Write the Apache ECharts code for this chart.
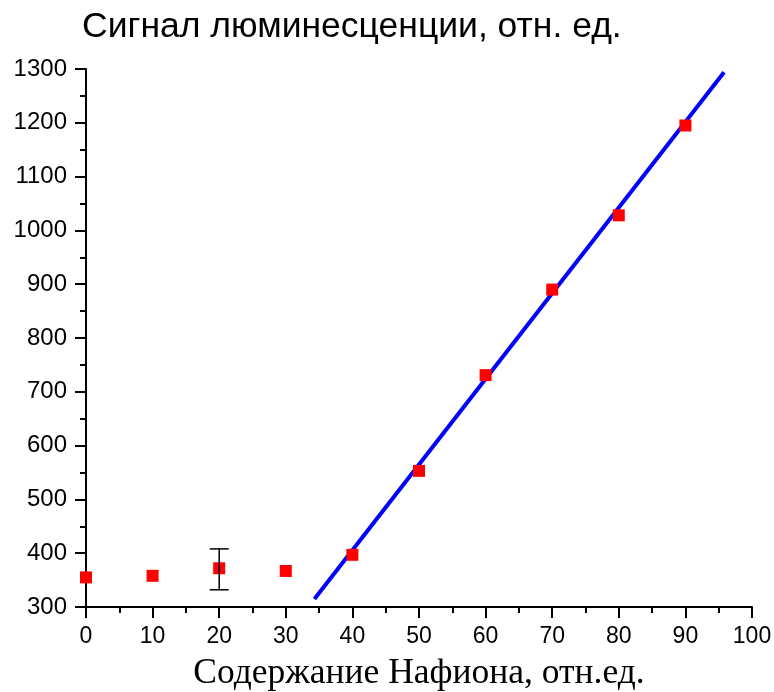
<!DOCTYPE html>
<html>
<head>
<meta charset="utf-8">
<script src="https://cdn.jsdelivr.net/npm/echarts@6/dist/echarts.min.js"></script>
<style>
  html, body { margin: 0; padding: 0; background: #fff; }
  #chart { width: 774px; height: 692px; }
</style>
</head>
<body>
<div id="chart"></div>
<script>
// Nafion content (rel. units) vs luminescence signal (rel. units)
const nafion = [0, 10, 20, 30, 40, 50, 60, 70, 80, 90];
const signal = [355, 358, 372, 367, 397, 553, 731, 890, 1028, 1195];

// error bar at the 20 point
const errX = [20];
const errLow = [332];
const errHigh = [408];

// linear fit over the rising part
const fitX = [34.3, 95.8];
const fitY = [315, 1294];

const titleText = 'Сигнал люминесценции, отн. ед.';
const xName = 'Содержание Нафиона, отн.ед.';

const chart = echarts.init(document.getElementById('chart'), null, { renderer: 'canvas' });

const sansFont = '"Liberation Sans", Arial, sans-serif';
const serifFont = '"Liberation Serif", "Times New Roman", serif';

chart.setOption({
  animation: false,
  backgroundColor: '#fff',
  title: {
    text: titleText,
    left: 77,
    top: 4,
    textStyle: { fontFamily: sansFont, fontSize: 35.5, fontWeight: 'normal', color: '#000' }
  },
  grid: { left: 86, right: 22, top: 69, bottom: 85, outerBoundsMode: 'none', containLabel: false },
  xAxis: {
    type: 'value',
    min: 0, max: 100, interval: 10,
    name: xName,
    nameLocation: 'middle',
    nameGap: 49,
    nameTextStyle: { fontFamily: serifFont, fontSize: 35.5, color: '#000' },
    axisLine: { show: true, onZero: false, lineStyle: { color: '#000', width: 2 } },
    axisTick: { show: true, inside: false, length: 11, lineStyle: { color: '#000', width: 2 } },
    minorTick: { show: true, splitNumber: 2, length: 6, lineStyle: { color: '#000', width: 2 } },
    axisLabel: { fontFamily: sansFont, fontSize: 23, color: '#000', margin: 18 },
    splitLine: { show: false }
  },
  yAxis: {
    type: 'value',
    min: 300, max: 1300, interval: 100,
    axisLine: { show: true, onZero: false, lineStyle: { color: '#000', width: 2 } },
    axisTick: { show: true, inside: false, length: 11, lineStyle: { color: '#000', width: 2 } },
    minorTick: { show: true, splitNumber: 2, length: 6, lineStyle: { color: '#000', width: 2 } },
    axisLabel: {
      fontFamily: sansFont, fontSize: 24, color: '#000', margin: 19,
      formatter: function (v) { return String(v); }
    },
    splitLine: { show: false }
  },
  series: [
    {
      name: 'fit',
      type: 'line',
      data: fitX.map((x, i) => [x, fitY[i]]),
      showSymbol: false,
      symbol: 'none',
      lineStyle: { color: '#0000ff', width: 4 },
      z: 2
    },
    {
      name: 'signal',
      type: 'scatter',
      data: nafion.map((x, i) => [x, signal[i]]),
      symbol: 'rect',
      symbolSize: 12,
      itemStyle: { color: '#ff0000', opacity: 1 },
      z: 3
    },
    {
      name: 'error',
      type: 'custom',
      data: errX.map((x, i) => [x, errLow[i], errHigh[i]]),
      renderItem: function (params, api) {
        const x = api.value(0);
        const lo = api.coord([x, api.value(1)]);
        const hi = api.coord([x, api.value(2)]);
        const hw = 9.5;
        const style = { stroke: '#000', lineWidth: 1.5 };
        return {
          type: 'group',
          children: [
            { type: 'line', shape: { x1: lo[0], y1: lo[1], x2: hi[0], y2: hi[1] }, style: style },
            { type: 'line', shape: { x1: lo[0] - hw, y1: lo[1], x2: lo[0] + hw, y2: lo[1] }, style: style },
            { type: 'line', shape: { x1: hi[0] - hw, y1: hi[1], x2: hi[0] + hw, y2: hi[1] }, style: style }
          ]
        };
      },
      z: 4
    }
  ]
});
</script>
</body>
</html>
